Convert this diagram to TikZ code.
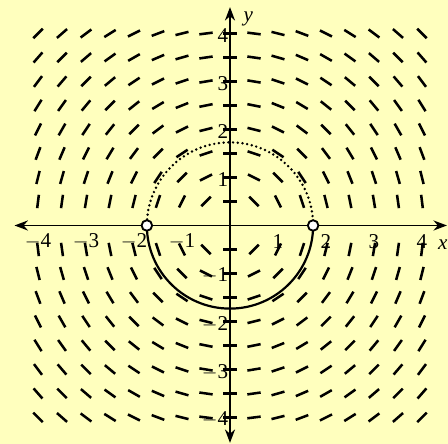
\documentclass[tikz,border=0pt]{standalone}
\usepackage{fontspec}
\setmainfont{Liberation Serif}
\usepackage{tikz}
\usetikzlibrary{positioning,arrows.meta}
\definecolor{bgyellow}{RGB}{255,255,190}

\begin{document}
\begin{tikzpicture}[
    axis/.style={line width=1pt, {Stealth[length=8pt,width=6pt]}-{Stealth[length=8pt,width=6pt]}},
    slope/.style={line width=1.5pt},
    curve/.style={line width=1.3pt},
    dotcurve/.style={line width=1.6pt, line cap=round, dash pattern=on 0pt off 2.8pt},
    hole/.style={circle, draw, line width=1.1pt, fill=white, inner sep=0pt, minimum size=0.22cm},
    lbl/.style={font=\fontsize{12.5}{14}\selectfont, inner sep=0pt}
]
% background and bounds
\fill[bgyellow] (-4.792,-4.552) rectangle (4.542,4.698);
\useasboundingbox (-4.792,-4.552) rectangle (4.542,4.698);

% axes
\coordinate (xl) at (-4.49,0);
\coordinate (xr) at (4.52,0);
\coordinate (yb) at (0,-4.53);
\coordinate (yt) at (0,4.55);
\draw[axis] (xl) -- (xr);
\draw[axis] (yb) -- (yt);
\node[lbl, font=\fontsize{12.5}{14}\selectfont\itshape, anchor=east] (xlab) at (4.54,-0.4) {x};
\node[lbl, font=\fontsize{12.5}{14}\selectfont\itshape] (ylab) at (0.38,4.3) {y};

% tick labels
\foreach \n/\t in {-4/$-$4,-3/$-$3,-2/$-$2,-1/$-$1,1/1,2/2,3/3,4/4}
  \node[lbl] (tx\n) at (\n,-0.34) {\t};
\foreach \n/\t in {-4/$-$4,-3/$-$3,-2/$-$2,-1/$-$1,1/1,2/2,3/3,4/4}
  \node[lbl, anchor=east] (ty\n) at (-0.03,\n-0.05) {\t};

% slope field dy/dx = -x/y
\foreach \x in {-4,-3.5,...,4}
  \foreach \y in {-4,-3.5,...,-0.5,0.5,1,...,4} {
    \pgfmathsetmacro\ang{atan(-\x/\y)}
    \draw[slope, shift={(\x,\y)}, rotate=\ang] (-0.14,0) -- (0.14,0);
  }

% solution curve
\coordinate (pl) at (-1.732,0);
\coordinate (pr) at (1.732,0);
\draw[curve] (pl) arc[start angle=180, end angle=360, radius=1.732];
\draw[dotcurve] (pr) arc[start angle=0, end angle=180, radius=1.732];
\node[hole] (hl) at (pl) {};
\node[hole] (hr) at (pr) {};
\end{tikzpicture}
\end{document}
